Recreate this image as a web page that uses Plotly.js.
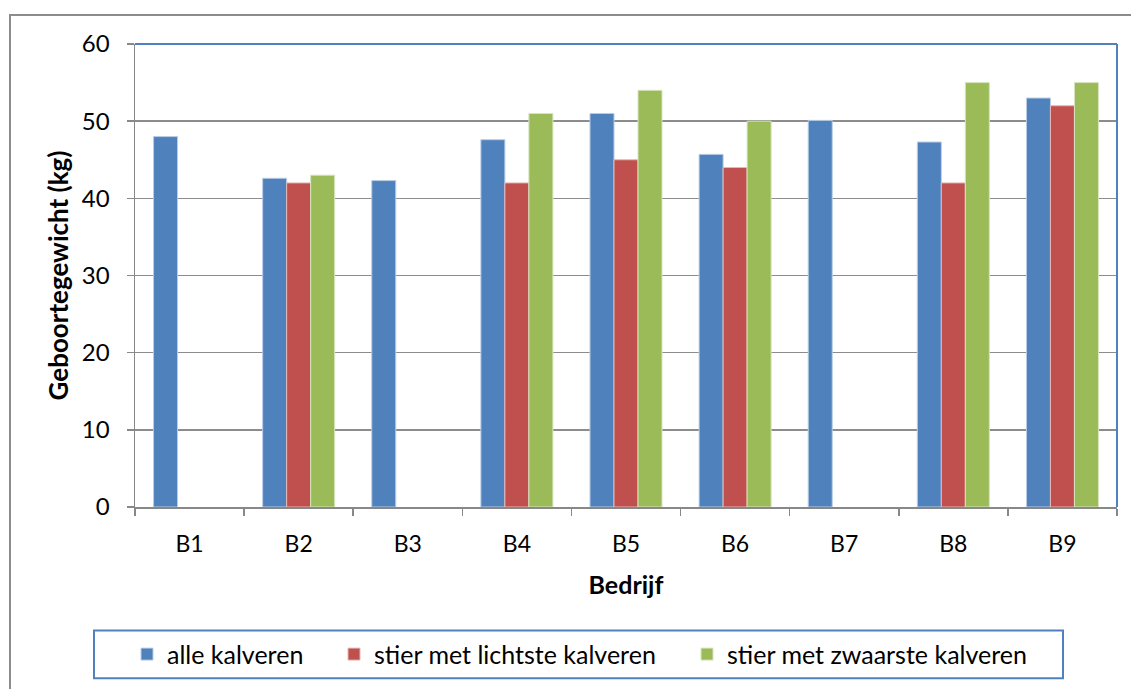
<!DOCTYPE html>
<html>
<head>
<meta charset="utf-8">
<script src="https://cdn.plot.ly/plotly-3.0.1.min.js"></script>
<style>html,body{margin:0;padding:0;background:#fff;}#chart{width:1131px;height:689px;}</style>
</head>
<body>
<div id="chart"></div>
<script>
const categories = ["B1","B2","B3","B4","B5","B6","B7","B8","B9"];
const alleKalveren = [48, 42.6, 42.3, 47.6, 51, 45.7, 50.1, 47.3, 53];
const stierLichtste = [null, 42, null, 42, 45, 44, null, 42, 52];
const stierZwaarste = [null, 43, null, 51, 54, 50, null, 55, 55];
const seriesNames = ["alle kalveren", "stier met lichtste kalveren", "stier met zwaarste kalveren"];
const yTitle = "Geboortegewicht (kg)";
const xTitle = "Bedrijf";

const FONT = "Lato, 'Open Sans', sans-serif";
const colors = ["#4F81BD", "#C0504D", "#9BBB59"];
const edge = ["#B9CDE5", "#E6B9B8", "#D7E4BD"];
const legendIds = ["legend", "legend2", "legend3"];

const traces = [alleKalveren, stierLichtste, stierZwaarste].map((vals, i) => ({
  type: "bar",
  name: seriesNames[i],
  x: categories,
  y: vals,
  legend: legendIds[i],
  marker: {color: colors[i], line: {color: edge[i], width: 1}},
  hoverinfo: "x+y+name"
}));

const L = 135, T = 44, R = 1117, B = 509;
const pw = R - L, ph = B - T;
const px = v => (v - L) / pw;
const py = v => (B - v) / ph;

function legendAt(xLeft) {
  return {
    orientation: "h",
    x: px(xLeft), xanchor: "left",
    y: py(657), yanchor: "middle",
    borderwidth: 0,
    bgcolor: "rgba(0,0,0,0)",
    font: {size: 25, family: FONT, color: "#000000"}
  };
}

const layout = {
  width: 1131, height: 689,
  margin: {l: L, r: 1131 - R, t: T, b: 689 - B, pad: 0},
  paper_bgcolor: "#ffffff", plot_bgcolor: "#ffffff",
  font: {family: FONT, color: "#000000", size: 23},
  barmode: "group",
  bargap: 0.34, bargroupgap: 0,
  showlegend: true,
  xaxis: {
    type: "category",
    showgrid: false, zeroline: false,
    showline: true, linecolor: "#888888", linewidth: 1.5,
    ticks: "outside", tickson: "boundaries", ticklen: 7, tickcolor: "#888888", tickwidth: 1.5,
    tickfont: {size: 23, family: FONT},
    ticklabelstandoff: 16,
    title: {text: xTitle, font: {size: 25, family: FONT, weight: "bold"}, standoff: 20}
  },
  yaxis: {
    range: [0, 60], dtick: 10, tick0: 0,
    showgrid: true, gridcolor: "#8C8C8C", gridwidth: 1.5,
    zeroline: false,
    showline: true, linecolor: "#888888", linewidth: 1.5,
    ticks: "outside", ticklen: 7, tickcolor: "#888888", tickwidth: 1.5,
    tickfont: {size: 24, family: FONT},
    ticklabelstandoff: 12,
    title: {text: yTitle, font: {size: 26, family: FONT, weight: "bold"}, standoff: 6}
  },
  legend: legendAt(127),
  legend2: legendAt(334),
  legend3: legendAt(687),
  shapes: [
    {type: "rect", xref: "paper", yref: "paper", x0: px(10), x1: px(1200), y0: py(760), y1: py(15),
     line: {color: "#8C8C8C", width: 2}, fillcolor: "rgba(0,0,0,0)", layer: "below"},
    {type: "rect", xref: "paper", yref: "paper", x0: px(94), x1: px(1063), y0: py(681), y1: py(633),
     line: {color: "#4F81BD", width: 2}, fillcolor: "rgba(0,0,0,0)", layer: "below"},
    {type: "line", xref: "paper", yref: "paper", x0: 0, x1: 1, y0: 1, y1: 1, line: {color: "#4F81BD", width: 2}},
    {type: "line", xref: "paper", yref: "paper", x0: 1, x1: 1, y0: 0, y1: 1, line: {color: "#4F81BD", width: 2}}
  ]
};

Plotly.newPlot("chart", traces, layout, {displayModeBar: false, staticPlot: true});
</script>
</body>
</html>
